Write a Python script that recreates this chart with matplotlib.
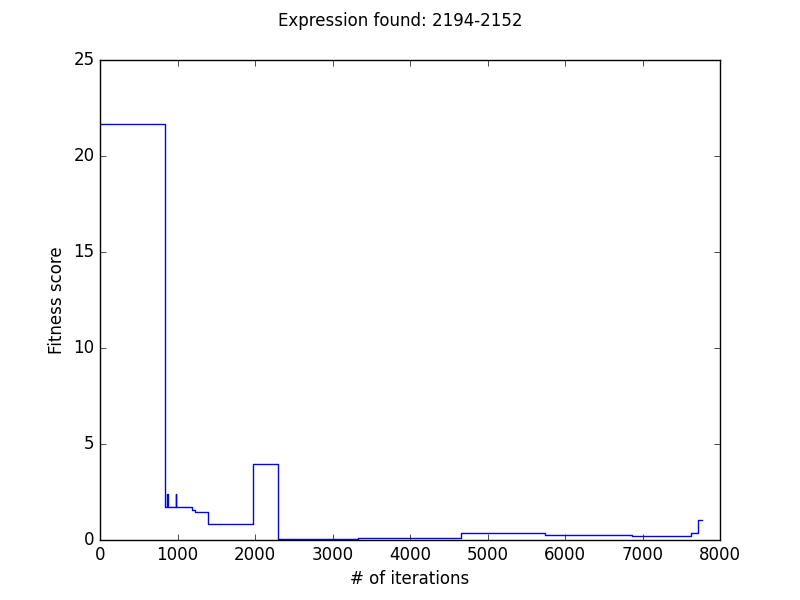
import matplotlib
matplotlib.use("Agg")
import matplotlib.pyplot as plt

plt.style.use("classic")

# iteration at which each fitness level starts (step-post)
iterations = [0, 843, 865, 872, 975, 982, 1183, 1220, 1398, 1974, 2301,
              3333, 3613, 4654, 5746, 6860, 7626, 7712, 7772]
fitness = [21.67, 1.74, 2.4, 1.74, 2.4, 1.74, 1.55, 1.48, 0.81, 3.97, 0.06,
           0.1, 0.12, 0.36, 0.28, 0.21, 0.36, 1.02, 1.02]

title = "Expression found: 2194-2152"

fig, ax = plt.subplots(figsize=(8, 6), dpi=100)
ax.plot(iterations, fitness, color="b", drawstyle="steps-post")
ax.set_xlim(0, 8000)
ax.set_ylim(0, 25)
ax.set_xlabel("# of iterations")
ax.set_ylabel("Fitness score")
fig.suptitle(title)

fig.savefig("out.png", dpi=100)
